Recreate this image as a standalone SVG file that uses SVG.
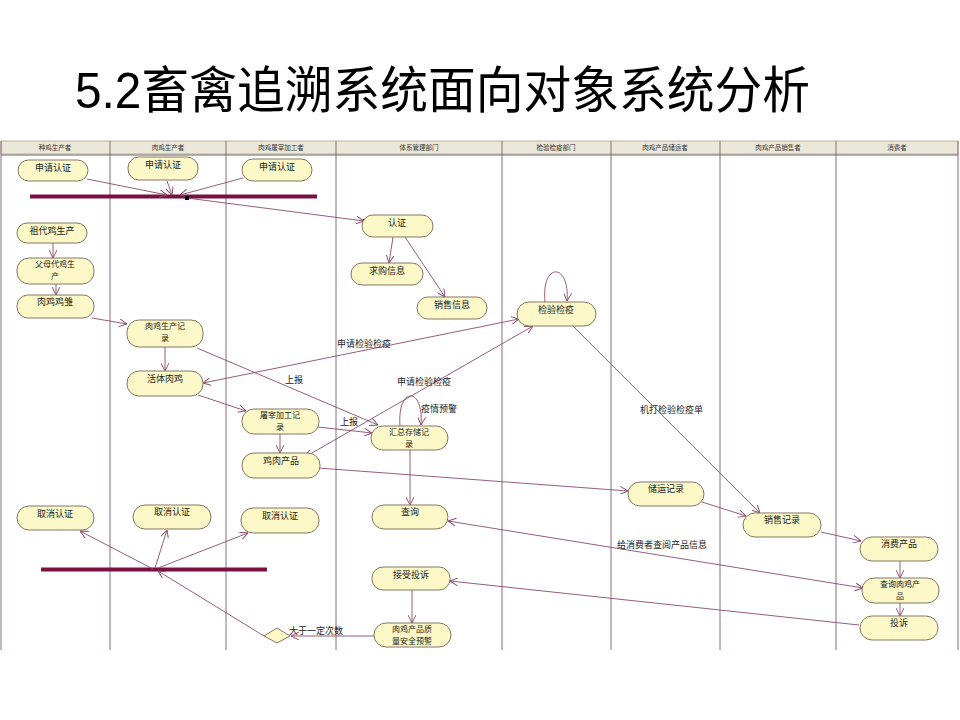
<svg xmlns="http://www.w3.org/2000/svg" width="960" height="720" viewBox="0 0 960 720">
<style>
.title{font-family:"Liberation Sans","Noto Sans CJK SC",sans-serif;font-size:50px;fill:#000}
.hdr{font-family:"Noto Sans CJK SC",sans-serif;font-size:6.5px;fill:#333;text-anchor:middle}
.lane{stroke:#8a6a7e;stroke-width:1}
.node rect{fill:#fcf8c8;stroke:#857664;stroke-width:1}
.node text,.lbl{font-family:"Noto Sans CJK SC",sans-serif;font-size:9px;fill:#222}
.node text{text-anchor:middle}
.node text.two{font-size:8px}
.c{fill:none;stroke:#8b4a6e;stroke-width:0.9}
.bar{fill:#7a1040}
</style>
<defs>
<marker id="ah" viewBox="0 0 10 10" refX="10" refY="5" markerWidth="8" markerHeight="8" markerUnits="userSpaceOnUse" orient="auto-start-reverse">
<path d="M0,0 L10,5 L0,10" fill="none" stroke="#8b4a6e" stroke-width="1.2"/>
</marker>
</defs>
<rect width="960" height="720" fill="#fff"/>
<text class="title" x="75" y="108" textLength="735" lengthAdjust="spacingAndGlyphs">5.2畜禽追溯系统面向对象系统分析</text>

<g id="swimlanes">
<rect x="1" y="141" width="957" height="13" fill="#ebe8da" stroke="#b8b3a3" stroke-width="1"/>
<line class="lane" x1="1" y1="141" x2="1" y2="650"/>
<line class="lane" x1="110" y1="141" x2="110" y2="650"/>
<line class="lane" x1="226" y1="141" x2="226" y2="650"/>
<line class="lane" x1="336" y1="141" x2="336" y2="650"/>
<line class="lane" x1="502" y1="141" x2="502" y2="650"/>
<line class="lane" x1="611" y1="141" x2="611" y2="650"/>
<line class="lane" x1="720" y1="141" x2="720" y2="650"/>
<line class="lane" x1="836" y1="141" x2="836" y2="650"/>
<line class="lane" x1="958" y1="141" x2="958" y2="650"/>
<line x1="1" y1="155" x2="958" y2="155" stroke="#6d6a60" stroke-width="1"/>
<text class="hdr" x="55" y="150">种鸡生产者</text>
<text class="hdr" x="168" y="150">肉鸡生产者</text>
<text class="hdr" x="281" y="150">肉鸡屠宰加工者</text>
<text class="hdr" x="419" y="150">体系管理部门</text>
<text class="hdr" x="556" y="150">检验检疫部门</text>
<text class="hdr" x="665" y="150">肉鸡产品储运者</text>
<text class="hdr" x="778" y="150">肉鸡产品销售者</text>
<text class="hdr" x="897" y="150">消费者</text>
</g>

<g id="bars">
<rect id="fork-top" class="bar" x="30" y="194.5" width="287" height="4"/>
<rect id="fork-bottom" class="bar" x="41" y="567.5" width="226" height="4"/>
</g>

<g id="connectors">
<path class="c" marker-end="url(#ah)" d="M87,179 L167,195"/>
<path class="c" marker-end="url(#ah)" d="M167,181 L172,195"/>
<path class="c" marker-end="url(#ah)" d="M243,178 L180,195"/>
<path class="c" marker-end="url(#ah)" d="M187,198 L364,221"/>
<rect x="185" y="196" width="4" height="4" fill="#000"/>
<rect x="363" y="219" width="4" height="4" fill="#000"/>
<path class="c" marker-end="url(#ah)" d="M53,243 L53,258"/>
<path class="c" marker-end="url(#ah)" d="M56,284 L56,295"/>
<path class="c" marker-end="url(#ah)" d="M92,318 L127,324"/>
<path class="c" marker-end="url(#ah)" d="M165,347 L165,371"/>
<path class="c" marker-end="url(#ah)" d="M198,395 L246,411"/>
<path class="c" marker-end="url(#ah)" d="M197,348 L378,425"/>
<text class="lbl" x="285" y="383">上报</text>
<path class="c" marker-end="url(#ah)" d="M318,427 L372,433"/>
<text class="lbl" x="340" y="425">上报</text>
<path class="c" marker-end="url(#ah)" d="M280,433 L280,453"/>
<path class="c" marker-start="url(#ah)" marker-end="url(#ah)" d="M203,383 L519,319"/>
<text class="lbl" x="337" y="347">申请检验检疫</text>
<path class="c" marker-start="url(#ah)" marker-end="url(#ah)" d="M305,457 L533,326"/>
<text class="lbl" x="397" y="385">申请检验检疫</text>
<path class="c" marker-end="url(#ah)" d="M393,237 L389,263"/>
<path class="c" marker-end="url(#ah)" d="M405,237 L445,297"/>
<path class="c" marker-end="url(#ah)" d="M545,302 C541,262 570,262 567,301"/>
<path class="c" marker-end="url(#ah)" d="M400,426 C397,386 424,386 421,425"/>
<text class="lbl" x="421" y="412">疫情预警</text>
<path class="c" marker-end="url(#ah)" d="M410,450 L410,505"/>
<path class="c" marker-end="url(#ah)" d="M318,468 L628,491"/>
<path class="c" marker-end="url(#ah)" d="M573,326 L760,513"/>
<text class="lbl" x="640" y="413">机打检验检疫单</text>
<path class="c" marker-end="url(#ah)" d="M702,502 L746,516"/>
<path class="c" marker-end="url(#ah)" d="M821,532 L861,541"/>
<path class="c" marker-end="url(#ah)" d="M900,561 L900,578"/>
<path class="c" marker-end="url(#ah)" d="M900,603 L900,616"/>
<path class="c" marker-start="url(#ah)" marker-end="url(#ah)" d="M448,521 L863,588"/>
<text class="lbl" x="617" y="548">给消费者查阅产品信息</text>
<path class="c" marker-end="url(#ah)" d="M859,625 L450,581"/>
<path class="c" marker-end="url(#ah)" d="M412,590 L412,623"/>
<path class="c" marker-end="url(#ah)" d="M374,636 L291,636"/>
<text class="lbl" x="289" y="634">大于一定次数</text>
<path class="c" marker-end="url(#ah)" d="M264,636 L158,571"/>
<path class="c" marker-end="url(#ah)" d="M153,569 L80,531"/>
<path class="c" marker-end="url(#ah)" d="M155,568 L167,530"/>
<path class="c" marker-end="url(#ah)" d="M158,568 L248,533"/>
</g>

<g id="decision">
<polygon points="264,636 277,628 290,636 277,643" fill="#fcf8c8" stroke="#857664" stroke-width="1"/>
</g>

<g id="n-apply1" class="node"><rect x="18" y="160" width="70" height="21" rx="10.5"/><text x="53" y="171">申请认证</text></g>
<g id="n-apply2" class="node"><rect x="128" y="157" width="70" height="23" rx="11"/><text x="163" y="168">申请认证</text></g>
<g id="n-apply3" class="node"><rect x="242" y="159" width="70" height="22" rx="11"/><text x="277" y="170">申请认证</text></g>
<g id="n-gp" class="node"><rect x="17" y="223" width="70" height="20" rx="10"/><text x="52" y="234">祖代鸡生产</text></g>
<g id="n-parent" class="node"><rect x="17" y="258" width="77" height="26" rx="12"/><text class="two" x="55" y="267">父母代鸡生</text><text class="two" x="55" y="279">产</text></g>
<g id="n-chick" class="node"><rect x="17" y="295" width="77" height="23" rx="11"/><text x="55" y="305">肉鸡鸡雏</text></g>
<g id="n-cancel1" class="node"><rect x="17" y="506" width="77" height="24" rx="12"/><text x="55" y="517">取消认证</text></g>
<g id="n-prodrec" class="node"><rect x="127" y="320" width="76" height="27" rx="12"/><text class="two" x="165" y="329">肉鸡生产记</text><text class="two" x="165" y="341">录</text></g>
<g id="n-live" class="node"><rect x="127" y="371" width="76" height="25" rx="12"/><text x="165" y="382">活体肉鸡</text></g>
<g id="n-cancel2" class="node"><rect x="133" y="505" width="78" height="24" rx="12"/><text x="172" y="515">取消认证</text></g>
<g id="n-slaughter" class="node"><rect x="242" y="409" width="77" height="25" rx="12"/><text class="two" x="280" y="418">屠宰加工记</text><text class="two" x="280" y="430">录</text></g>
<g id="n-meat" class="node"><rect x="242" y="453" width="78" height="25" rx="12"/><text x="281" y="464">鸡肉产品</text></g>
<g id="n-cancel3" class="node"><rect x="241" y="508" width="78" height="25" rx="12"/><text x="280" y="519">取消认证</text></g>
<g id="n-cert" class="node"><rect x="362" y="215" width="71" height="22" rx="11"/><text x="397" y="226">认证</text></g>
<g id="n-buy" class="node"><rect x="351" y="263" width="72" height="22" rx="11"/><text x="387" y="274">求购信息</text></g>
<g id="n-sell" class="node"><rect x="417" y="297" width="70" height="22" rx="11"/><text x="452" y="308">销售信息</text></g>
<g id="n-store" class="node"><rect x="371" y="426" width="77" height="24" rx="12"/><text class="two" x="409" y="435">汇总存储记</text><text class="two" x="409" y="447">录</text></g>
<g id="n-query" class="node"><rect x="372" y="505" width="76" height="24" rx="12"/><text x="410" y="515">查询</text></g>
<g id="n-complaint-recv" class="node"><rect x="372" y="567" width="78" height="23" rx="11"/><text x="411" y="578">接受投诉</text></g>
<g id="n-warn" class="node"><rect x="374" y="623" width="77" height="24" rx="12"/><text class="two" x="412" y="632">肉鸡产品质</text><text class="two" x="412" y="644">量安全预警</text></g>
<g id="n-inspect" class="node"><rect x="517" y="302" width="79" height="24" rx="12"/><text x="556" y="313">检验检疫</text></g>
<g id="n-transport" class="node"><rect x="628" y="482" width="76" height="24" rx="12"/><text x="666" y="492">储运记录</text></g>
<g id="n-sales" class="node"><rect x="743" y="513" width="78" height="24" rx="12"/><text x="782" y="523">销售记录</text></g>
<g id="n-consume" class="node"><rect x="860" y="537" width="78" height="24" rx="12"/><text x="899" y="547">消费产品</text></g>
<g id="n-querymeat" class="node"><rect x="862" y="578" width="77" height="25" rx="12"/><text class="two" x="900" y="587">查询肉鸡产</text><text class="two" x="900" y="599">品</text></g>
<g id="n-complain" class="node"><rect x="860" y="616" width="78" height="24" rx="12"/><text x="899" y="626">投诉</text></g>
</svg>
